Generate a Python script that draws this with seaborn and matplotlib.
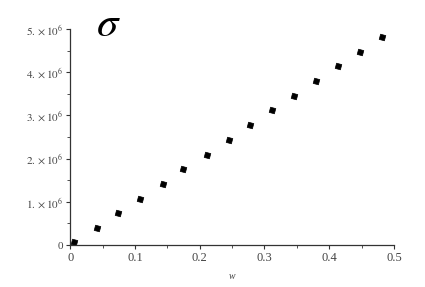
import numpy as np
import pandas as pd
import seaborn as sns
import matplotlib
matplotlib.use("Agg")
import matplotlib.pyplot as plt
from matplotlib.ticker import FuncFormatter, MultipleLocator

# points (w, sigma)
w_vals = [0.006, 0.042, 0.074, 0.108, 0.143, 0.175, 0.211, 0.245,
          0.278, 0.312, 0.346, 0.380, 0.414, 0.448, 0.482]
sigma_vals = [0.07e6, 0.39e6, 0.74e6, 1.06e6, 1.41e6, 1.76e6, 2.08e6, 2.43e6,
              2.78e6, 3.13e6, 3.45e6, 3.80e6, 4.14e6, 4.47e6, 4.81e6]
x_ticks = [0, 0.1, 0.2, 0.3, 0.4, 0.5]
y_ticks = [0, 1e6, 2e6, 3e6, 4e6, 5e6]

df = pd.DataFrame({"w": w_vals, "sigma": sigma_vals})

sns.set_style("ticks")
plt.rcParams['font.family'] = ['Liberation Serif', 'DejaVu Serif']
plt.rcParams['mathtext.fontset'] = 'stix'

fig = plt.figure(figsize=(4.25, 2.87), dpi=100)
ax = fig.add_axes([0.165, 0.146, 0.762, 0.753])

# tilted squares, like the dotted line marks of the original
sns.scatterplot(data=df, x="w", y="sigma", ax=ax, marker=(4, 0, 30), s=30,
                color="black", edgecolor="black", linewidth=0.5)

ax.set_xlim(0, 0.5)
ax.set_ylim(0, 5e6)
ax.set_xticks(x_ticks)
ax.set_yticks(y_ticks)
ax.xaxis.set_minor_locator(MultipleLocator(0.05))
ax.yaxis.set_minor_locator(MultipleLocator(0.5e6))

def fmt_x(v, pos):
    return "0" if v == 0 else f"{v:g}"

def fmt_y(v, pos):
    if v == 0:
        return "0"
    return r"$%d.\times10^{6}$" % round(v / 1e6)

ax.xaxis.set_major_formatter(FuncFormatter(fmt_x))
ax.yaxis.set_major_formatter(FuncFormatter(fmt_y))
ax.tick_params(axis="both", which="major", length=3, width=0.8,
               labelsize=9, labelcolor="#444444", color="#333333", pad=2)
ax.tick_params(axis="both", which="minor", length=2, width=0.6, color="#333333")
ax.tick_params(axis="y", labelsize=8)

for side in ["top", "right"]:
    ax.spines[side].set_visible(False)
for side in ["left", "bottom"]:
    ax.spines[side].set_linewidth(0.9)
    ax.spines[side].set_color("#333333")

ax.set_xlabel("w", fontsize=7, style="italic", color="#444444", labelpad=6)
ax.set_ylabel("")

fig.text(0.225, 0.875, r"$\sigma$", fontsize=31, color="black")

fig.savefig("out.png", dpi=100)
